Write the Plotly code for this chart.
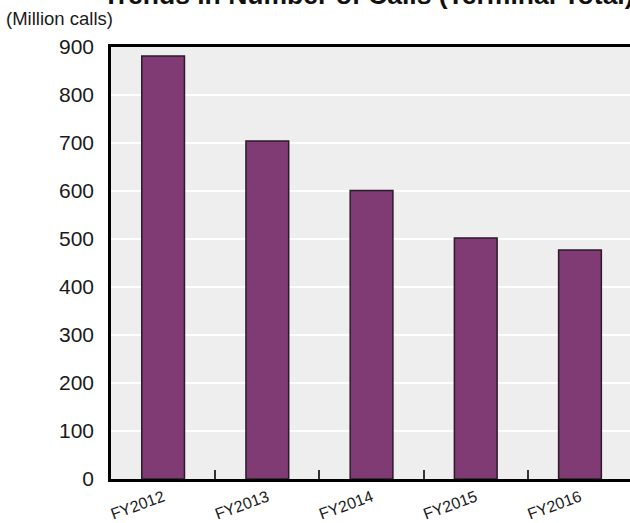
import plotly.graph_objects as go

categories = ["FY2012", "FY2013", "FY2014", "FY2015", "FY2016"]
calls = [881, 704, 601, 502, 477]
y_ticks = [0, 100, 200, 300, 400, 500, 600, 700, 800, 900]

W, H = 630, 523
L, R, T, B = 111, 0, 47, 44
pw = W - L - R
ph = H - T - B

def px_x(px):
    return (px - L) / pw

def px_y(py):
    return 1 + (T - py) / ph

fig = go.Figure()
fig.add_trace(go.Bar(
    x=categories, y=calls, width=0.41,
    marker=dict(color="#803A74", line=dict(color="#2B1B29", width=1.5)),
))

fig.update_layout(
    width=W, height=H,
    margin=dict(l=L, r=R, t=T, b=B, autoexpand=False),
    paper_bgcolor="white", plot_bgcolor="#EDEEED",
    showlegend=False,
    font=dict(family="Liberation Sans, Arial, sans-serif", color="#1a1a1a"),
)
fig.update_xaxes(
    type="category", range=[-0.5, 4.48], automargin=False,
    showline=True, linecolor="black", linewidth=3, mirror=True,
    ticks="inside", tickson="boundaries", ticklen=9, tickwidth=1.5, tickcolor="#333",
    tickangle=-20, tickfont=dict(size=16),
    showgrid=False,
)
fig.update_yaxes(
    range=[0, 900], tickvals=y_ticks, automargin=False,
    showline=True, linecolor="black", linewidth=2.5, mirror=True,
    ticks="", ticklabelstandoff=10,
    gridcolor="white", gridwidth=2,
    tickfont=dict(size=21),
    zeroline=False,
)
fig.add_annotation(
    text="<b>Trends in Number of Calls (Terminal Total)</b>",
    xref="paper", yref="paper", x=px_x(368), y=px_y(12),
    xanchor="center", yanchor="bottom", showarrow=False,
    font=dict(size=26.5, color="#111"),
)
fig.add_annotation(
    text="(Million calls)",
    xref="paper", yref="paper", x=px_x(4), y=px_y(19),
    xanchor="left", yanchor="middle", showarrow=False,
    font=dict(size=18.5, color="#1a1a1a"),
)
fig.write_html("out.html")
